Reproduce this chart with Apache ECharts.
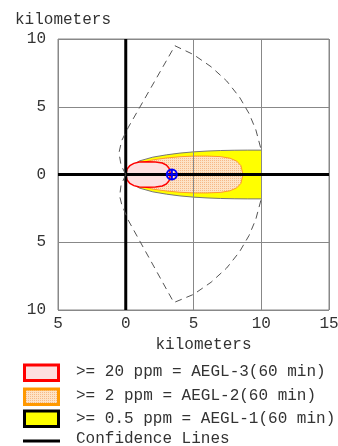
<!DOCTYPE html>
<html><head><meta charset="utf-8">
<script src="https://cdn.jsdelivr.net/npm/echarts@6/dist/echarts.min.js"></script>
<style>html,body{margin:0;padding:0;background:#fff}#c{width:338px;height:446px}</style>
</head><body><div id="c"></div>
<script>
// Threat zones: downwind distance (km) and half-width (km), symmetric about the centreline
const aegl1X    = [0, 0.3, 1, 2, 3, 4, 5, 6, 7, 8, 9, 10];
const aegl1Half = [0, 0.55, 1.0, 1.28, 1.45, 1.58, 1.67, 1.73, 1.77, 1.79, 1.8, 1.8];
const aegl2X    = [0, 0.3, 1, 2, 3, 4, 5, 6, 7, 7.7, 8.2, 8.5, 8.65];
const aegl2Half = [0, 0.45, 0.82, 1.08, 1.22, 1.31, 1.36, 1.36, 1.32, 1.2, 0.98, 0.65, 0];
const aegl3X    = [0, 0.1, 0.3, 0.6, 1, 1.6, 2.2, 2.7, 3.0, 3.2, 3.3];
const aegl3Half = [0, 0.4, 0.65, 0.82, 0.92, 0.95, 0.93, 0.85, 0.7, 0.45, 0];
// Confidence lines (km)
const confUpper = [[0,0],[-0.35,0.7],[-0.5,1.6],[-0.3,2.5],[0.2,3.5],[3.63,9.5],[5.0,8.85],[6.3,7.95],[7.45,6.9],[8.4,5.7],[9.1,4.5],[9.6,3.3],[10,1.8]];
const confLower = [[0,0],[-0.35,-0.8],[-0.45,-1.6],[-0.3,-2.2],[0.17,-3.35],[3.55,-9.45],[5.0,-8.85],[6.3,-7.95],[7.45,-6.9],[8.4,-5.7],[9.1,-4.5],[9.6,-3.3],[10,-1.8]];
const sourcePoint = [[3.4, 0]];
const xTicks = { min: -5, max: 15, interval: 5 };
const yTicks = { min: -10, max: 10, interval: 5 };
const axisName = 'kilometers';
const legendLabels = ['>= 20 ppm = AEGL-3(60 min)', '>= 2 ppm = AEGL-2(60 min)', '>= 0.5 ppm = AEGL-1(60 min)', 'Confidence Lines'];

function makePattern(bg, dot, step) {
  const c = document.createElement('canvas');
  c.width = step; c.height = step;
  const g = c.getContext('2d');
  g.fillStyle = bg; g.fillRect(0, 0, step, step);
  g.fillStyle = dot; g.fillRect(0, 0, 1, 1);
  return { image: c, repeat: 'repeat' };
}
const redFill = '#fde0e0';
const orangePattern = makePattern('#fde3c6', '#f6b887', 2);

function outline(xs, hs) {
  const up = xs.map((x, i) => [x, hs[i]]);
  const down = xs.map((x, i) => [x, -hs[i]]).reverse();
  return up.concat(down);
}

function zoneSeries(name, xs, hs, fill, stroke, lw, edgesOnly) {
  return {
    type: 'custom', name: name, z: -1, silent: true,
    data: [[0, 0]],
    renderItem: function (params, api) {
      const poly = outline(xs, hs).map(p => api.coord(p));
      const children = [{ type: 'polygon', shape: { points: poly }, style: { fill: fill, stroke: edgesOnly ? null : stroke, lineWidth: lw } }];
      if (edgesOnly) {
        children.push({ type: 'polyline', shape: { points: xs.map((x, i) => api.coord([x, hs[i]])) }, style: { stroke: stroke, lineWidth: lw, fill: null } });
        children.push({ type: 'polyline', shape: { points: xs.map((x, i) => api.coord([x, -hs[i]])) }, style: { stroke: stroke, lineWidth: lw, fill: null } });
      }
      return { type: 'group', children: children };
    }
  };
}

const font = '"Liberation Mono", "Courier New", monospace';
const chart = echarts.init(document.getElementById('c'));
const legendTop = [364, 388, 410];
const option = {
  animation: false,
  backgroundColor: '#ffffff',
  grid: { left: 58, right: 9, top: 39, bottom: 136, outerBoundsMode: 'none', containLabel: false, show: true, borderColor: '#888', borderWidth: 1, backgroundColor: 'transparent' },
  xAxis: {
    type: 'value', min: xTicks.min, max: xTicks.max, interval: xTicks.interval,
    name: axisName, nameLocation: 'middle', nameGap: 27,
    nameTextStyle: { fontFamily: font, fontSize: 16, color: '#333', padding: [0, 0, 0, 20] },
    axisLine: { show: false }, axisTick: { show: false },
    axisLabel: { fontFamily: font, fontSize: 16, color: '#333', margin: 6, formatter: v => String(Math.abs(v)) },
    splitLine: { show: true, lineStyle: { color: '#888', width: 1 } }
  },
  yAxis: {
    type: 'value', min: yTicks.min, max: yTicks.max, interval: yTicks.interval,
    axisLine: { show: false }, axisTick: { show: false },
    axisLabel: { fontFamily: font, fontSize: 16, color: '#333', margin: 12, formatter: v => String(Math.abs(v)) },
    splitLine: { show: true, lineStyle: { color: '#888', width: 1 } }
  },
  graphic: [
    { type: 'text', left: 15, top: 12, style: { text: axisName, font: '16px ' + font, fill: '#333' } },
    { type: 'rect', shape: { x: 24.5, y: legendTop[0] + 1, width: 34, height: 15.5 }, style: { fill: redFill, stroke: '#ff0000', lineWidth: 3 } },
    { type: 'rect', shape: { x: 24.5, y: legendTop[1] + 1, width: 34, height: 15.5 }, style: { fill: orangePattern, stroke: '#ff9900', lineWidth: 3 } },
    { type: 'rect', shape: { x: 24.5, y: legendTop[2] + 1, width: 34, height: 15.5 }, style: { fill: '#ffff00', stroke: '#000000', lineWidth: 3 } },
    { type: 'line', shape: { x1: 23, y1: 441, x2: 60, y2: 441 }, style: { stroke: '#000', lineWidth: 3 } },
    { type: 'text', left: 76, top: 364, style: { text: legendLabels[0], font: '16px ' + font, fill: '#333' } },
    { type: 'text', left: 76, top: 388, style: { text: legendLabels[1], font: '16px ' + font, fill: '#333' } },
    { type: 'text', left: 76, top: 411, style: { text: legendLabels[2], font: '16px ' + font, fill: '#333' } },
    { type: 'text', left: 76, top: 431, style: { text: legendLabels[3], font: '16px ' + font, fill: '#333' } }
  ],
  series: [
    zoneSeries('AEGL-1', aegl1X, aegl1Half, '#ffff00', '#777', 1, true),
    zoneSeries('AEGL-2', aegl2X, aegl2Half, orangePattern, '#ff9a2a', 1, false),
    zoneSeries('AEGL-3', aegl3X, aegl3Half, redFill, '#ff0000', 1.5, false),
    { type: 'line', data: [[xTicks.min, 0], [xTicks.max, 0]], symbol: 'none', silent: true, lineStyle: { color: '#000', width: 3 }, z: 3 },
    { type: 'line', data: [[0, yTicks.min], [0, yTicks.max]], symbol: 'none', silent: true, lineStyle: { color: '#000', width: 3 }, z: 3 },
    { type: 'line', data: confUpper, symbol: 'none', silent: true, lineStyle: { color: '#555', width: 1, type: [7, 5] }, z: 4 },
    { type: 'line', data: confLower, symbol: 'none', silent: true, lineStyle: { color: '#555', width: 1, type: [7, 5] }, z: 4 },
    {
      type: 'custom', data: sourcePoint, z: 5, silent: true,
      renderItem: function (params, api) {
        const p = api.coord([api.value(0), api.value(1)]);
        return { type: 'group', children: [
          { type: 'circle', shape: { cx: p[0], cy: p[1], r: 5 }, style: { fill: null, stroke: '#0000ff', lineWidth: 2 } },
          { type: 'line', shape: { x1: p[0] - 5, y1: p[1], x2: p[0] + 5, y2: p[1] }, style: { stroke: '#0000ff', lineWidth: 2 } },
          { type: 'line', shape: { x1: p[0], y1: p[1] - 5, x2: p[0], y2: p[1] + 5 }, style: { stroke: '#0000ff', lineWidth: 2 } }
        ] };
      }
    }
  ]
};
chart.setOption(option);
</script></body></html>
